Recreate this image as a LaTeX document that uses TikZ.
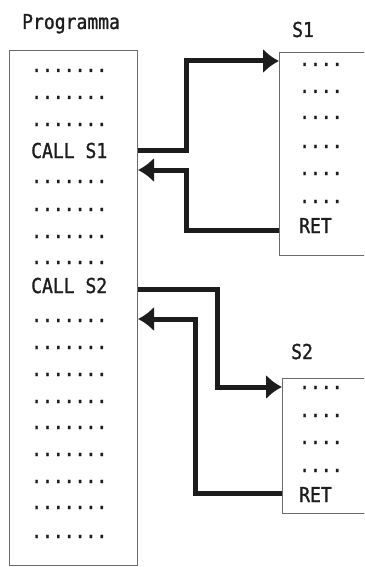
\documentclass[tikz,border=0pt]{standalone}
\usepackage{fontspec}
\newfontfamily\progfont{DejaVu Sans Mono}[FakeStretch=0.88,FakeBold=1.2]
\usetikzlibrary{arrows.meta}
\definecolor{ink}{HTML}{1C1C1C}
\definecolor{boxline}{HTML}{6A6A6A}
\begin{document}
\begin{tikzpicture}[x=1pt,y=-1pt,
  txt/.style={font=\progfont\fontsize{20.5pt}{20.5pt}\selectfont, text=ink, anchor=base west, inner sep=0pt},
  codebox/.style={draw=boxline, line width=1pt, anchor=north west, inner sep=0pt},
  arr/.style={draw=ink, line width=5pt, -{Latex[length=16pt,width=25pt]}}]
\useasboundingbox (0,0) rectangle (364,567);
\clip (0,0) rectangle (364,567);
% boxes
\node[codebox, minimum width=128pt, minimum height=515pt] (prog) at (9,50) {};
\node[codebox, minimum width=100pt, minimum height=203pt] (s1) at (279,52) {};
\node[codebox, minimum width=100pt, minimum height=135pt] (s2) at (282,378) {};
% titles
\node[txt] (tprog) at (22,29) {Programma};
\node[txt] (ts1) at (292,37) {S1};
\node[txt] (ts2) at (291,359) {S2};
% main program lines
\foreach \y [count=\i] in {72,99,126} \node[txt] (ma\i) at (31,\y) {.......};
\node[txt] (callA) at (31,158) {CALL S1};
\foreach \y [count=\i] in {183,211,238,264} \node[txt] (mb\i) at (31,\y) {.......};
\node[txt] (callB) at (31,293) {CALL S2};
\foreach \y [count=\i] in {322,349,376,403,429,456,483,509,538} \node[txt] (mc\i) at (31,\y) {.......};
% S1 lines
\foreach \y [count=\i] in {66,93,119,148,175,203} \node[txt] (sa\i) at (299,\y) {....};
\node[txt] (retA) at (299,233) {RET};
% S2 lines
\foreach \y [count=\i] in {389,417,444,472} \node[txt] (sb\i) at (299,\y) {....};
\node[txt] (retB) at (299,502) {RET};
% connectors
\draw[arr] (prog.east |- 0,150) -| (186,61) -- (s1.west |- 0,61);
\draw[arr] (s1.west |- 0,230) -| (186,170) -- (prog.east |- 0,170);
\draw[arr] (prog.east |- 0,289) -| (217,387) -- (s2.west |- 0,387);
\draw[arr] (s2.west |- 0,493) -| (195,319) -- (prog.east |- 0,319);
\end{tikzpicture}
\end{document}
